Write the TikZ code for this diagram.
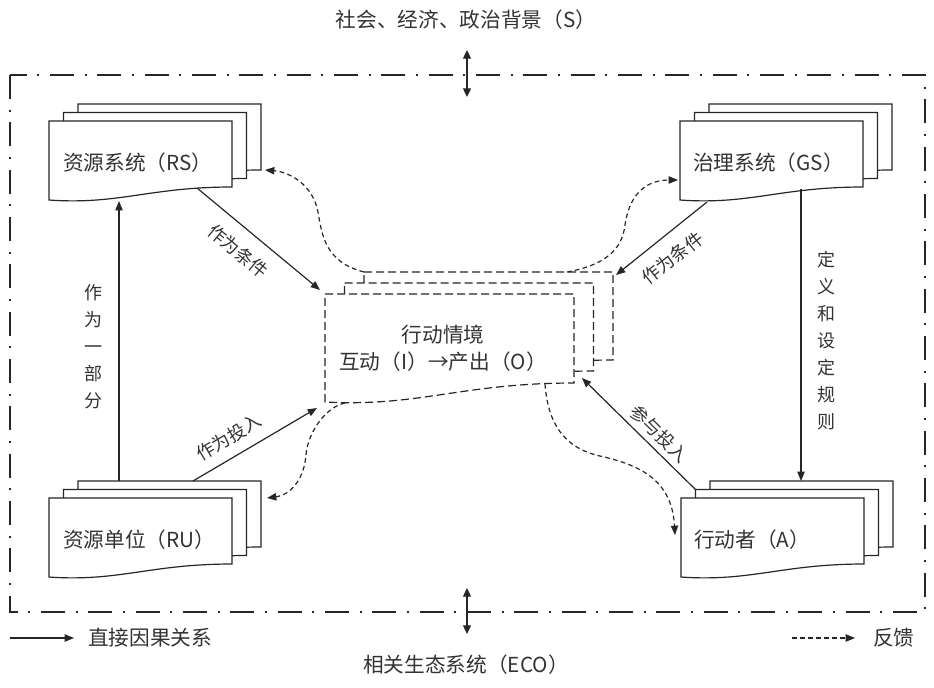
\documentclass[tikz,border=0pt]{standalone}
\usepackage{fontspec}
\setmainfont{Noto Sans CJK SC}
\usetikzlibrary{arrows.meta}

\tikzset{
  pics/doc/.style n args={3}{code={
      \draw[pic actions] (0,0) -- (#1,0) -- (#1,#3) .. controls ({0.55*#1},#3) and ({0.38*#1},{#2+5}) .. (0,#2) -- cycle;
      \coordinate (-nw) at (0,0); \coordinate (-ne) at (#1,0);
      \coordinate (-se) at (#1,#3); \coordinate (-sw) at (0,#2);
  }}
}

\begin{document}
\begin{tikzpicture}[x=0.75pt,y=0.75pt,yscale=-1,xscale=1,
    line/.style={draw=black!85, line width=0.9pt},
    docbox/.style={line, fill=white, transform shape},
    situation/.style={docbox, dash pattern=on 6pt off 3pt},
    arr/.style={line, -{Triangle[length=7pt,width=5.5pt]}},
    fb/.style={arr, dash pattern=on 3.5pt off 2.5pt},
    dbl/.style={line, {Triangle[length=6.5pt,width=6pt]}-{Triangle[length=6.5pt,width=6pt]}},
    txt/.style={font=\fontsize{15.5}{20.25}\selectfont, text=black!80, inner sep=0pt},
    lbl/.style={font=\fontsize{13.5}{20.25}\selectfont, text=black!80, inner sep=0pt}]
        \useasboundingbox (0,0) rectangle (934,687);
        \draw [line, line width=0.8pt, dash pattern=on 18pt off 8pt on 1.5pt off 8pt] (10,75) rectangle (925,612);

        % resource system, governance system, resource units, actors
        \pic [docbox] (rs3) at (78,104) {doc={183}{79}{66}};
        \pic [docbox] (rs2) at (63.5,112.5) {doc={183}{79}{66}};
        \pic [docbox] (rs1) at (49,121) {doc={183}{79}{66}};
        \pic [docbox] (gs3) at (709,104) {doc={183}{79}{66}};
        \pic [docbox] (gs2) at (694.5,112.5) {doc={183}{79}{66}};
        \pic [docbox] (gs1) at (680,121) {doc={183}{79}{66}};
        \pic [docbox] (ru3) at (78,481) {doc={183}{79}{66}};
        \pic [docbox] (ru2) at (63.5,489.5) {doc={183}{79}{66}};
        \pic [docbox] (ru1) at (49,498) {doc={183}{79}{66}};
        \pic [docbox] (a3) at (710,481) {doc={183}{79}{66}};
        \pic [docbox] (a2) at (695.5,489.5) {doc={183}{79}{66}};
        \pic [docbox] (a1) at (681,498) {doc={183}{79}{66}};

        % action situation
        \pic [situation] (as3) at (364,272) {doc={249}{108}{88}};
        \pic [situation] (as2) at (344.5,283) {doc={249}{108}{88}};
        \pic [situation] (as1) at (325,294) {doc={249}{108}{89}};

        \node [txt, anchor=west] (rs) at ([shift={(14,42)}]rs1-nw) {资源系统（RS）};
        \node [txt, anchor=west] (gs) at ([shift={(13,42)}]gs1-nw) {治理系统（GS）};
        \node [txt, anchor=west] (ru) at ([shift={(14,42)}]ru1-nw) {资源单位（RU）};
        \node [txt, anchor=west] (a) at ([shift={(13,42)}]a1-nw) {行动者（A）};
        \node [txt, align=center] (as) at (443,348) {行动情境\\互动（I）→产出（O）};

        \node [txt] (s) at (466,20) {社会、经济、政治背景（S）};
        \node [txt] (eco) at (466,665) {相关生态系统（ECO）};

        % direct causal links
        \draw [arr] ([shift={(-35,1)}]rs1-se) -- node [lbl, pos=0.45, rotate=-39.7, anchor=north, inner ysep=10pt] {作为条件} ([shift={(-5,-4)}]as1-nw);
        \draw [arr] ([shift={(27,2)}]gs1-sw) -- node [lbl, pos=0.53, rotate=38.7, anchor=north, inner ysep=10pt] {作为条件} ([shift={(3,3)}]as3-ne);
        \draw [arr] ([shift={(115,0)}]ru3-nw) -- node [lbl, pos=0.37, rotate=30.5, anchor=south, inner ysep=8pt] {作为投入} ([shift={(-8,6)}]as1-sw);
        \draw [arr] ([shift={(41,0)}]ru3-nw) -- node [lbl, align=center, pos=0.48, left=12pt] {作\\为\\一\\部\\分} ([shift={(70,1)}]rs1-sw);
        \draw [arr] ([shift={(121,-11)}]gs1-sw) -- node [lbl, align=center, pos=0.52, right=12pt] {定\\义\\和\\设\\定\\规\\则} ([shift={(91,0)}]a3-nw);
        \draw [arr] (a2-nw) -- node [lbl, pos=0.41, rotate=-44.2, anchor=south, inner ysep=4pt] {参与投入} ([shift={(8,-5)}]as1-se);

        % feedback
        \draw [fb] (as3-nw) .. controls (325,262) and (322,235) .. (318,212) .. controls (313,185) and (290,172) .. ([shift={(4,0)}]rs3-se);
        \draw [fb] ([shift={(-46,0)}]as3-ne) .. controls (605,265) and (622,250) .. (625,225) .. controls (630,190) and (650,180) .. ([shift={(-2,59)}]gs1-nw);
        \draw [fb] ([shift={(20,1)}]as1-sw) .. controls (328,406) and (308,430) .. (306,455) .. controls (304,480) and (290,495) .. ([shift={(6,17)}]ru3-ne);
        \draw [fb] ([shift={(-29,1)}]as1-se) .. controls (548,425) and (565,448) .. (600,456) .. controls (640,465) and (672,480) .. ([shift={(-6,37)}]a1-nw);

        % context
        \draw [dbl] ([shift={(1,30)}]s.center) -- ([shift={(1,77)}]s.center);
        \draw [dbl] ([shift={(1,-77)}]eco.center) -- ([shift={(1,-31)}]eco.center);

        % key
        \coordinate (key1) at (10,638);
        \node [txt, anchor=west] (causal) at (88,638) {直接因果关系};
        \draw [arr] (key1) -- ([shift={(-14,0)}]causal.west);
        \coordinate (key2) at (792,638);
        \node [txt, anchor=west] (feedback) at (873,638) {反馈};
        \draw [fb] (key2) -- ([shift={(-18,0)}]feedback.west);

    \end{tikzpicture}
\end{document}
